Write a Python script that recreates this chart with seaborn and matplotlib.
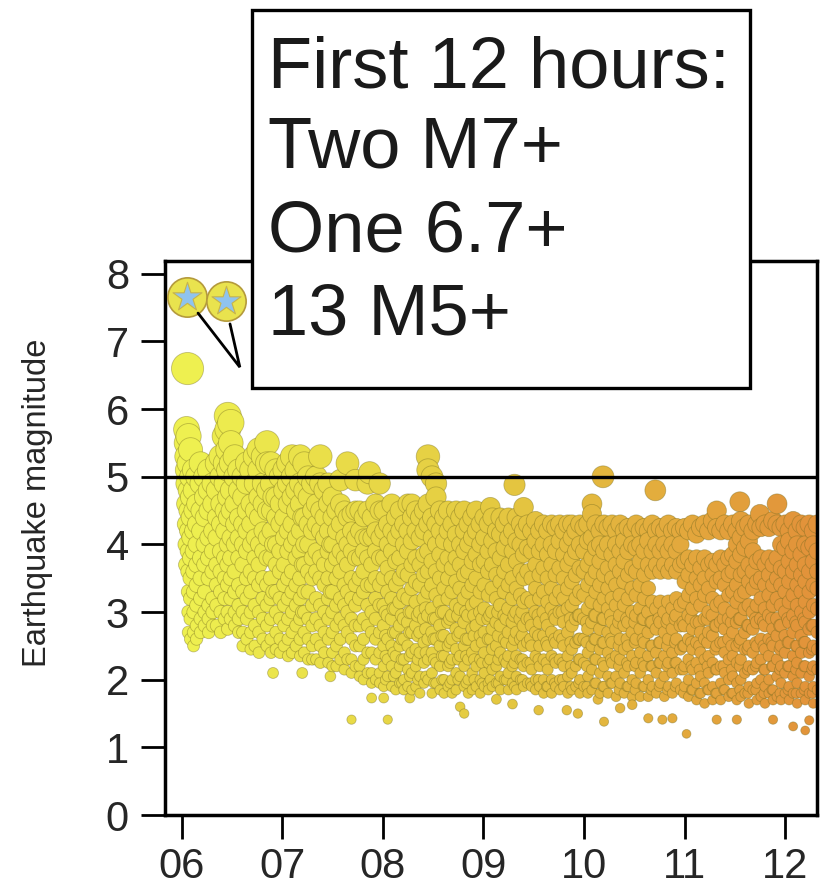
import numpy as np
import pandas as pd
import matplotlib
matplotlib.use("Agg")
import matplotlib.pyplot as plt
from matplotlib.colors import LinearSegmentedColormap
from matplotlib.patches import Rectangle
import seaborn as sns

# day of February (UTC), magnitudes
day06 = [
    (6.05, [5.7, 5.5, 5.3, 5.1, 4.9, 4.6, 4.3, 4.0, 3.7]),
    (6.06, [6.6]),
    (6.07, [5.6, 5.2, 4.8, 4.5, 4.2, 3.9, 3.6, 3.3, 3.0, 2.7]),
    (6.09, [5.4, 5.0, 4.7, 4.4, 4.1, 3.8, 3.5, 3.2, 2.9, 2.6]),
    (6.12, [5.1, 4.8, 4.5, 4.2, 3.9, 3.6, 3.3, 3.0, 2.7, 2.5]),
    (6.15, [5.0, 4.6, 4.3, 4.0, 3.7, 3.4, 3.1, 2.8, 2.6]),
    (6.19, [5.2, 4.9, 4.5, 4.2, 3.8, 3.5, 3.2, 2.9, 2.7]),
    (6.23, [5.0, 4.7, 4.4, 4.0, 3.7, 3.3, 3.0, 2.8]),
    (6.27, [5.1, 4.8, 4.5, 4.1, 3.8, 3.5, 3.1, 2.9, 2.7]),
    (6.31, [4.9, 4.6, 4.2, 3.9, 3.6, 3.2, 3.0, 2.8]),
    (6.35, [5.2, 4.8, 4.4, 4.1, 3.7, 3.4, 3.1, 2.8]),
    (6.39, [5.3, 5.0, 4.6, 4.3, 3.9, 3.6, 3.3, 3.0, 2.7]),
    (6.43, [5.6, 5.2, 4.9, 4.5, 4.2, 3.8, 3.5, 3.2, 2.9]),
    (6.46, [5.9, 5.7, 5.4, 5.1, 4.7, 4.4, 4.0, 3.7, 3.4, 3.0, 2.75]),
    (6.49, [5.8, 5.5, 5.2, 4.8, 4.5, 4.1, 3.8, 3.5, 3.2, 2.9]),
    (6.53, [5.3, 5.0, 4.6, 4.3, 4.0, 3.6, 3.3, 3.0, 2.8]),
    (6.57, [5.1, 4.8, 4.4, 4.1, 3.8, 3.4, 3.1, 2.9, 2.7]),
    (6.61, [5.0, 4.7, 4.3, 4.0, 3.7, 3.3, 3.0, 2.7, 2.5]),
    (6.65, [5.2, 4.9, 4.5, 4.2, 3.9, 3.5, 3.2, 2.9, 2.6]),
    (6.69, [5.1, 4.6, 4.3, 4.0, 3.6, 3.3, 3.0, 2.7, 2.45]),
    (6.73, [5.3, 4.9, 4.5, 4.1, 3.8, 3.5, 3.1, 2.8, 2.5]),
    (6.77, [5.4, 5.1, 4.7, 4.4, 4.0, 3.7, 3.4, 3.0, 2.7, 2.4]),
    (6.81, [5.3, 4.9, 4.6, 4.2, 3.9, 3.5, 3.2, 2.9, 2.6]),
    (6.85, [5.5, 5.2, 4.8, 4.5, 4.1, 3.8, 3.4, 3.1, 2.8, 2.5]),
    (6.89, [5.2, 4.9, 4.5, 4.2, 3.8, 3.5, 3.2, 2.9, 2.6, 2.4]),
    (6.91, [4.7, 4.0, 3.3, 2.1]),
    (6.94, [5.1, 4.7, 4.4, 4.0, 3.7, 3.3, 3.0, 2.7, 2.45]),
    (6.98, [5.0, 4.6, 4.3, 3.9, 3.6, 3.2, 2.9, 2.6, 2.4]),
]

day07 = [
    (7.02, [5.1, 4.8, 4.4, 4.1, 3.7, 3.4, 3.1, 2.8, 2.5]),
    (7.06, [5.2, 4.9, 4.6, 4.2, 3.9, 3.5, 3.2, 2.9, 2.6, 2.35]),
    (7.10, [5.3, 5.0, 4.7, 4.3, 4.0, 3.6, 3.3, 3.0, 2.7, 2.4]),
    (7.14, [5.1, 4.8, 4.5, 4.1, 3.8, 3.4, 3.1, 2.8, 2.5]),
    (7.18, [5.3, 4.9, 4.6, 4.2, 3.9, 3.5, 3.2, 2.9, 2.6, 2.35]),
    (7.20, [4.4, 3.7, 3.0, 2.1]),
    (7.22, [5.2, 4.8, 4.4, 4.0, 3.7, 3.3, 3.0, 2.7, 2.4]),
    (7.26, [5.0, 4.7, 4.3, 4.0, 3.6, 3.3, 2.9, 2.6, 2.3]),
    (7.30, [4.9, 4.5, 4.2, 3.8, 3.5, 3.1, 2.8, 2.5, 2.3]),
    (7.34, [5.0, 4.6, 4.3, 3.9, 3.6, 3.2, 2.9, 2.6, 2.3]),
    (7.38, [5.3, 4.9, 4.5, 4.2, 3.8, 3.5, 3.1, 2.8, 2.5, 2.25]),
    (7.42, [4.8, 4.4, 4.1, 3.7, 3.4, 3.0, 2.7, 2.4]),
    (7.46, [4.9, 4.6, 4.2, 3.9, 3.5, 3.2, 2.9, 2.6, 2.25]),
    (7.48, [4.0, 3.3, 2.05]),
    (7.50, [4.7, 4.4, 4.0, 3.7, 3.3, 3.0, 2.7, 2.4, 2.2]),
    (7.54, [4.5, 4.2, 3.8, 3.5, 3.1, 2.8, 2.5, 2.2]),
    (7.58, [4.95, 4.6, 4.3, 3.9, 3.6, 3.2, 2.9, 2.6, 2.3]),
    (7.62, [4.5, 4.1, 3.8, 3.4, 3.1, 2.8, 2.4, 2.15]),
    (7.65, [5.2, 4.4, 4.0, 3.7, 3.3, 3.0, 2.7, 2.3]),
    (7.69, [4.45, 4.2, 3.9, 3.5, 3.2, 2.9, 2.6, 2.3, 2.1, 1.41]),
    (7.73, [4.95, 4.5, 4.1, 3.8, 3.4, 3.1, 2.8, 2.5, 2.2]),
    (7.77, [4.5, 4.2, 3.8, 3.5, 3.2, 2.8, 2.5, 2.2, 2.05]),
    (7.81, [4.4, 4.1, 3.9, 3.6, 3.3, 2.9, 2.6, 2.3, 2.0]),
    (7.85, [4.9, 4.5, 4.1, 3.8, 3.4, 3.1, 2.8, 2.4, 2.1]),
    (7.87, [5.06]),
    (7.89, [4.4, 4.1, 3.7, 3.4, 3.0, 2.7, 2.4, 2.1, 1.95, 1.73]),
    (7.93, [4.6, 4.2, 3.9, 3.5, 3.2, 2.9, 2.6, 2.3, 2.0]),
    (7.97, [4.9, 4.5, 4.1, 3.8, 3.4, 3.1, 2.7, 2.4, 2.1, 1.95]),
]

day08 = [
    (8.01, [4.5, 4.2, 3.8, 3.5, 3.1, 2.8, 2.5, 2.2, 1.9, 1.73]),
    (8.05, [4.3, 4.0, 3.65, 3.3, 2.95, 2.6, 2.3, 2.05, 1.41]),
    (8.09, [4.6, 4.2, 3.9, 3.5, 3.2, 2.9, 2.5, 2.2, 1.9]),
    (8.13, [4.4, 4.1, 3.75, 3.4, 3.05, 2.7, 2.35, 2.1, 1.85]),
    (8.17, [4.5, 4.2, 3.8, 3.5, 3.15, 2.8, 2.5, 2.2, 1.95]),
    (8.21, [4.3, 4.0, 3.6, 3.25, 2.9, 2.6, 2.3, 2.0, 1.85]),
    (8.25, [4.6, 4.2, 3.9, 3.55, 3.2, 2.85, 2.5, 2.15, 1.9]),
    (8.27, [1.73]),
    (8.29, [4.6, 4.4, 4.05, 3.7, 3.35, 3.0, 2.7, 2.4, 2.1, 1.85]),
    (8.33, [4.5, 4.2, 3.8, 3.45, 3.15, 2.8, 2.45, 2.2, 1.9]),
    (8.37, [4.4, 4.1, 3.7, 3.4, 3.0, 2.7, 2.4, 2.05, 1.8]),
    (8.41, [4.5, 4.2, 3.85, 3.55, 3.2, 2.9, 2.55, 2.25, 1.95]),
    (8.45, [5.3, 5.1, 4.6, 4.3, 3.9, 3.6, 3.3, 2.95, 2.6, 2.3, 2.0]),
    (8.49, [5.0, 4.4, 4.1, 3.75, 3.4, 3.05, 2.7, 2.4, 2.1, 1.8]),
    (8.53, [4.9, 4.7, 4.3, 4.0, 3.6, 3.25, 2.9, 2.6, 2.25, 1.95]),
    (8.57, [4.5, 4.2, 3.85, 3.5, 3.15, 2.8, 2.5, 2.2, 1.85]),
    (8.61, [4.4, 4.05, 3.7, 3.35, 3.0, 2.65, 2.35, 2.0, 1.8]),
    (8.65, [4.5, 4.2, 3.8, 3.5, 3.2, 2.85, 2.5, 2.2, 1.9]),
    (8.69, [4.3, 4.0, 3.65, 3.3, 2.95, 2.6, 2.3, 2.0, 1.8]),
    (8.73, [4.5, 4.15, 3.8, 3.45, 3.1, 2.75, 2.45, 2.1, 1.85]),
    (8.77, [4.4, 4.0, 3.7, 3.35, 3.05, 2.7, 2.35, 2.05, 1.6]),
    (8.81, [4.5, 4.2, 3.9, 3.55, 3.2, 2.85, 2.5, 2.2, 1.9, 1.5]),
    (8.85, [4.3, 4.0, 3.6, 3.3, 2.95, 2.6, 2.3, 2.0, 1.8]),
    (8.89, [4.4, 4.1, 3.75, 3.4, 3.1, 2.75, 2.4, 2.1, 1.85]),
    (8.93, [4.5, 4.2, 3.85, 3.5, 3.15, 2.8, 2.5, 2.2, 1.9]),
    (8.97, [4.3, 4.0, 3.7, 3.3, 3.0, 2.65, 2.3, 2.0, 1.8]),
]

day09 = [
    (9.01, [4.4, 4.1, 3.75, 3.4, 3.05, 2.7, 2.4, 2.1, 1.9]),
    (9.05, [4.3, 3.9, 3.6, 3.25, 2.9, 2.6, 2.25, 1.95, 1.85]),
    (9.07, [4.55]),
    (9.09, [4.4, 4.05, 3.7, 3.35, 3.0, 2.75, 2.45, 2.15, 1.9]),
    (9.13, [4.2, 3.9, 3.55, 3.2, 2.85, 2.5, 2.2, 1.95, 1.71]),
    (9.17, [4.4, 4.15, 3.8, 3.45, 3.1, 2.8, 2.4, 2.05, 1.85]),
    (9.21, [4.3, 3.95, 3.6, 3.3, 2.95, 2.6, 2.3, 2.0]),
    (9.25, [4.4, 4.1, 3.7, 3.4, 3.05, 2.7, 2.35, 2.1, 1.85]),
    (9.29, [4.2, 3.9, 3.5, 3.2, 2.85, 2.5, 2.2, 1.95, 1.64]),
    (9.31, [4.88]),
    (9.33, [4.4, 4.05, 3.75, 3.35, 3.0, 2.7, 2.35, 2.05, 1.85]),
    (9.37, [4.3, 4.0, 3.6, 3.25, 2.9, 2.6, 2.3, 2.0]),
    (9.40, [4.55, 4.2, 3.85, 3.5, 3.15, 2.8, 2.5, 2.2, 1.9]),
    (9.44, [4.3, 3.95, 3.6, 3.2, 2.9, 2.55, 2.25, 1.95]),
    (9.48, [4.2, 3.9, 3.5, 3.15, 2.8, 2.5, 2.15, 1.9]),
    (9.52, [4.35, 4.05, 3.7, 3.35, 3.0, 2.7, 2.35, 2.0, 1.85]),
    (9.55, [1.55]),
    (9.56, [4.2, 3.9, 3.55, 3.2, 2.85, 2.5, 2.2, 1.9]),
    (9.60, [4.3, 4.0, 3.65, 3.3, 3.0, 2.65, 2.3, 2.0, 1.8]),
    (9.64, [4.2, 3.85, 3.5, 3.15, 2.8, 2.5, 2.15, 1.9]),
    (9.68, [4.3, 4.0, 3.7, 3.35, 3.05, 2.7, 2.35, 2.0, 1.8]),
    (9.72, [4.25, 3.9, 3.55, 3.2, 2.9, 2.55, 2.25, 1.9]),
    (9.76, [4.3, 4.05, 3.65, 3.3, 3.0, 2.65, 2.3, 2.0, 1.85]),
    (9.80, [4.2, 3.85, 3.5, 3.2, 2.85, 2.5, 2.2, 1.9]),
    (9.83, [1.55]),
    (9.84, [4.3, 4.0, 3.7, 3.35, 3.05, 2.7, 2.35, 2.05, 1.8]),
    (9.88, [4.3, 4.1, 3.8, 3.45, 3.1, 2.8, 2.45, 2.1, 1.85]),
    (9.92, [4.2, 3.9, 3.55, 3.2, 2.9, 2.55, 2.2, 1.9]),
    (9.94, [1.5]),
    (9.96, [4.3, 4.0, 3.65, 3.3, 2.95, 2.6, 2.3, 2.0, 1.8]),
]

day10 = [
    (10.00, [4.25, 3.9, 3.6, 3.25, 2.9, 2.6, 2.25, 1.9]),
    (10.04, [4.3, 4.05, 3.7, 3.4, 3.05, 2.75, 2.4, 2.05, 1.8]),
    (10.08, [4.6, 4.45, 4.1, 3.8, 3.5, 3.15, 2.85, 2.5, 2.15, 1.85]),
    (10.12, [4.3, 3.95, 3.6, 3.3, 2.95, 2.6, 2.3, 1.95]),
    (10.14, [1.71]),
    (10.16, [4.2, 4.0, 3.75, 3.4, 3.1, 2.75, 2.45, 2.1, 1.8]),
    (10.19, [5.0]),
    (10.20, [4.3, 3.9, 3.55, 3.2, 2.9, 2.55, 2.2, 1.9, 1.38]),
    (10.24, [4.25, 4.0, 3.65, 3.35, 3.05, 2.7, 2.4, 2.05, 1.8]),
    (10.28, [4.3, 3.85, 3.5, 3.2, 2.85, 2.55, 2.25, 1.95]),
    (10.32, [4.2, 4.0, 3.7, 3.4, 3.1, 2.75, 2.35, 2.05, 1.75]),
    (10.36, [4.3, 3.9, 3.6, 3.25, 2.95, 2.6, 2.3, 1.95, 1.58]),
    (10.40, [4.2, 4.05, 3.75, 3.45, 3.1, 2.8, 2.45, 2.1, 1.8]),
    (10.44, [4.25, 3.9, 3.55, 3.2, 2.85, 2.5, 2.2, 1.9]),
    (10.48, [4.2, 4.0, 3.65, 3.35, 3.0, 2.7, 2.35, 2.0, 1.75, 1.63]),
    (10.52, [4.3, 3.95, 3.6, 3.25, 2.95, 2.6, 2.25, 1.95]),
    (10.56, [4.2, 4.0, 3.75, 3.4, 3.05, 2.75, 2.4, 2.1, 1.75]),
    (10.60, [4.25, 3.9, 3.55, 3.2, 2.9, 2.55, 2.2, 1.9]),
    (10.64, [4.2, 4.05, 3.7, 3.35, 3.0, 2.7, 2.35, 2.0, 1.75, 1.43]),
    (10.68, [4.3, 3.9, 3.6, 3.15, 2.85, 2.5, 2.2, 1.9]),
    (10.71, [4.8]),
    (10.72, [4.2, 4.0, 3.7, 3.05, 2.75, 2.4, 2.1, 1.8]),
    (10.76, [4.25, 3.9, 3.6, 3.15, 2.85, 2.55, 2.25, 1.95]),
    (10.78, [1.41]),
    (10.80, [4.2, 4.0, 3.7, 3.0, 2.7, 2.35, 2.05, 1.75]),
    (10.84, [4.3, 3.9, 3.6, 3.15, 2.9, 2.6, 2.25, 1.9]),
    (10.88, [4.2, 4.0, 3.7, 3.05, 2.75, 2.4, 2.1, 1.8, 1.43]),
    (10.92, [4.25, 3.9, 3.6, 3.2, 2.95, 2.6, 2.25, 1.95]),
    (10.96, [4.2, 4.0, 3.7, 3.1, 2.8, 2.45, 2.15, 1.85]),
]

day11 = [
    (11.00, [4.25, 3.75, 3.45, 3.15, 2.8, 2.5, 2.2, 1.9]),
    (11.02, [1.2]),
    (11.04, [4.2, 3.8, 3.55, 3.25, 2.95, 2.6, 2.3, 2.0, 1.75]),
    (11.08, [4.3, 3.7, 3.35, 3.05, 2.75, 2.45, 2.15, 1.85]),
    (11.12, [4.15, 3.8, 3.5, 3.2, 2.85, 2.55, 2.25, 1.95, 1.7]),
    (11.16, [4.25, 3.65, 3.4, 3.1, 2.7, 2.4, 2.05, 1.8]),
    (11.20, [4.3, 3.8, 3.5, 3.25, 2.9, 2.6, 2.3, 1.95, 1.65]),
    (11.24, [4.2, 3.7, 3.35, 3.0, 2.7, 2.35, 2.1, 1.85]),
    (11.28, [4.35, 3.75, 3.55, 3.2, 2.95, 2.65, 2.25, 1.9, 1.7]),
    (11.32, [4.5, 4.25, 3.7, 3.45, 3.1, 2.8, 2.5, 2.15, 1.8, 1.41]),
    (11.36, [4.2, 3.8, 3.5, 3.15, 2.85, 2.55, 2.2, 1.95, 1.7]),
    (11.40, [4.3, 3.7, 3.4, 3.05, 2.75, 2.4, 2.1, 1.85]),
    (11.44, [4.2, 3.8, 3.55, 3.25, 2.9, 2.6, 2.3, 2.0, 1.75]),
    (11.48, [4.3, 3.85, 3.6, 3.3, 3.0, 2.7, 2.35, 2.05, 1.8]),
    (11.52, [4.2, 4.0, 3.75, 3.4, 3.15, 2.85, 2.5, 2.25, 1.95, 1.7, 1.41]),
    (11.55, [4.63]),
    (11.56, [4.35, 4.1, 3.85, 3.55, 3.25, 2.9, 2.6, 2.3, 2.0, 1.75]),
    (11.60, [4.25, 3.95, 3.6, 3.3, 3.05, 2.7, 2.45, 2.1, 1.8]),
    (11.64, [4.3, 4.05, 3.7, 3.45, 3.1, 2.8, 2.5, 2.2, 1.9, 1.65]),
    (11.68, [4.2, 3.9, 3.6, 3.35, 3.0, 2.75, 2.4, 2.15, 1.85]),
    (11.72, [4.3, 3.75, 3.45, 3.1, 2.85, 2.5, 2.25, 1.95, 1.7]),
    (11.75, [4.45]),
    (11.76, [4.25, 3.8, 3.5, 3.2, 2.9, 2.6, 2.3, 2.0, 1.75]),
    (11.80, [4.3, 3.7, 3.4, 3.05, 2.8, 2.45, 2.15, 1.9, 1.65]),
    (11.84, [4.25, 3.8, 3.55, 3.25, 2.95, 2.6, 2.35, 2.0, 1.8]),
    (11.88, [4.35, 3.7, 3.4, 3.1, 2.75, 2.5, 2.2, 1.85, 1.7, 1.41]),
    (11.92, [4.6, 4.3, 3.8, 3.5, 3.2, 2.9, 2.65, 2.3, 2.05, 1.75]),
    (11.96, [4.25, 4.0, 3.65, 3.4, 3.1, 2.8, 2.5, 2.2, 1.95, 1.7]),
]

day12 = [
    (12.00, [4.3, 3.95, 3.6, 3.3, 3.0, 2.65, 2.4, 2.1, 1.8]),
    (12.04, [4.2, 4.05, 3.75, 3.45, 3.15, 2.85, 2.55, 2.2, 1.9, 1.7]),
    (12.08, [4.35, 3.9, 3.6, 3.25, 2.95, 2.7, 2.35, 2.05, 1.8, 1.31]),
    (12.12, [4.2, 4.0, 3.7, 3.4, 3.1, 2.8, 2.5, 2.25, 1.95, 1.65]),
    (12.16, [4.3, 3.85, 3.55, 3.3, 3.0, 2.65, 2.4, 2.1, 1.8]),
    (12.20, [4.25, 4.0, 3.7, 3.45, 3.15, 2.85, 2.55, 2.2, 1.9, 1.7, 1.25]),
    (12.24, [4.3, 3.95, 3.6, 3.3, 3.0, 2.75, 2.4, 2.05, 1.8, 1.4]),
    (12.28, [4.2, 4.0, 3.75, 3.4, 3.1, 2.8, 2.5, 2.2, 1.9, 1.65]),
    (12.32, [4.3, 3.9, 3.6, 3.35, 3.05, 2.7, 2.45, 2.15, 1.85]),
]

# the many small events packed into the lower part of the cloud (days 8-12)
small_events = [
    (8.03, [2.0, 2.35, 2.65, 3.0]), (8.11, [2.05, 2.4, 2.7, 3.05]),
    (8.19, [1.95, 2.3, 2.6, 2.95]), (8.27, [2.05, 2.35, 2.7, 3.0]),
    (8.35, [2.0, 2.3, 2.65, 2.95]), (8.43, [2.05, 2.4, 2.75, 3.05]),
    (8.51, [1.95, 2.3, 2.6, 2.9]), (8.59, [2.0, 2.35, 2.65, 3.0]),
    (8.67, [1.95, 2.25, 2.55, 2.9]), (8.75, [2.0, 2.3, 2.65, 2.95]),
    (8.83, [1.95, 2.35, 2.6, 3.0]), (8.91, [2.0, 2.3, 2.65, 2.95]),
    (8.99, [1.95, 2.25, 2.55, 2.9]), (9.07, [2.0, 2.3, 2.6, 2.95]),
    (9.15, [1.95, 2.3, 2.65, 3.0]), (9.23, [2.0, 2.25, 2.55, 2.9]),
    (9.31, [1.9, 2.25, 2.6, 2.95]), (9.39, [2.0, 2.3, 2.65, 3.0]),
    (9.47, [1.95, 2.25, 2.6, 2.9]), (9.55, [2.0, 2.3, 2.65, 2.95]),
    (9.63, [1.9, 2.25, 2.55, 2.9]), (9.71, [1.95, 2.3, 2.6, 2.95]),
    (9.79, [2.0, 2.25, 2.6, 3.0]), (9.87, [1.9, 2.2, 2.55, 2.9]),
    (9.95, [1.95, 2.3, 2.6, 2.95]), (10.03, [1.9, 2.2, 2.55, 2.85]),
    (10.11, [1.95, 2.3, 2.6, 2.95]), (10.19, [1.9, 2.25, 2.55, 2.9]),
    (10.27, [1.95, 2.3, 2.6, 2.95]), (10.35, [1.85, 2.2, 2.5, 2.85]),
    (10.43, [1.9, 2.25, 2.6, 2.9]), (10.51, [1.85, 2.2, 2.55, 2.85]),
    (10.59, [1.9, 2.25, 2.6, 2.9]), (10.67, [1.85, 2.2, 2.5, 2.85]),
    (10.75, [1.9, 2.25, 2.55, 2.9]), (10.83, [1.85, 2.2, 2.5, 2.85]),
    (10.91, [1.9, 2.25, 2.55, 2.9]), (10.99, [1.8, 2.15, 2.5, 2.85]),
    (11.07, [1.85, 2.2, 2.55, 2.9]), (11.15, [1.8, 2.15, 2.5, 2.85]),
    (11.23, [1.85, 2.2, 2.55, 2.9]), (11.31, [1.8, 2.15, 2.45, 2.8]),
    (11.39, [1.85, 2.2, 2.55, 2.9]), (11.47, [1.8, 2.15, 2.5, 2.85]),
    (11.55, [1.85, 2.2, 2.55, 2.9]), (11.63, [1.8, 2.15, 2.45, 2.8]),
    (11.71, [1.85, 2.2, 2.55, 2.9]), (11.79, [1.8, 2.15, 2.5, 2.85]),
    (11.87, [1.85, 2.2, 2.55, 2.9]), (11.95, [1.8, 2.15, 2.45, 2.8]),
    (12.03, [1.85, 2.2, 2.55, 2.9]), (12.11, [1.8, 2.15, 2.5, 2.85]),
    (12.19, [1.85, 2.2, 2.55, 2.9]), (12.27, [1.8, 2.15, 2.45, 2.8]),
]

# the two M7+ mainshocks, drawn as stars
mainshock_time = [6.05, 6.44]
mainshock_mag = [7.66, 7.60]

day_ticks = [6, 7, 8, 9, 10, 11, 12]
day_labels = ["06", "07", "08", "09", "10", "11", "12"]
mag_ticks = [0, 1, 2, 3, 4, 5, 6, 7, 8]
box_lines = ["First 12 hours:", "Two M7+", "One 6.7+", "13 M5+"]

rows = []
for day in [day06, day07, day08, day09, day10, day11, day12, small_events]:
    for t, mags in day:
        for m in mags:
            rows.append((t, m))
df = pd.DataFrame(rows, columns=["time", "mag"]).sort_values("time", kind="stable")
# marker area (pt^2) grows with magnitude
df["area"] = (0.72 * 6.6 * np.exp(0.24 * df["mag"])) ** 2

sns.set_style("ticks")
plt.rcParams["font.family"] = ["Liberation Sans", "DejaVu Sans"]

fig = plt.figure(figsize=(8.23, 8.92), dpi=100)
ax = fig.add_axes([0.2005, 0.0863, 0.7922, 0.6211])

cmap = LinearSegmentedColormap.from_list("quake", ["#eef150", "#e4c840", "#e2923a"])
amin, amax = df["area"].min(), df["area"].max()
sns.scatterplot(data=df, x="time", y="mag", hue="time", palette=cmap,
                hue_norm=(6.0, 12.3), size="area", sizes=(amin, amax),
                size_norm=(amin, amax), edgecolor=(0.45, 0.42, 0.12, 0.42),
                linewidth=0.6, legend=False, ax=ax, zorder=2)

main = pd.DataFrame({"time": mainshock_time, "mag": mainshock_mag})
sns.scatterplot(data=main, x="time", y="mag", color="#e9e34e", s=800,
                edgecolor="#b49a3c", linewidth=1.2, legend=False, ax=ax, zorder=4)
sns.scatterplot(data=main, x="time", y="mag", color="#8fc3ee", marker="*", s=480,
                edgecolor="#c8b44a", linewidth=0.8, legend=False, ax=ax, zorder=5)

# pointers from the mainshocks to the text box
ax.plot([6.164, 6.58, 6.482], [7.42, 6.62, 7.26], color="black", lw=2.0,
        solid_joinstyle="miter", zorder=6, clip_on=False)

ax.axhline(5, color="black", lw=2.4, zorder=6)

ax.set_xlim(5.836, 12.317)
ax.set_ylim(0, 8.19)
ax.set_xticks(day_ticks)
ax.set_xticklabels(day_labels)
ax.set_yticks(mag_ticks)
ax.tick_params(axis="both", labelsize=30, length=17, width=2.0, color="black")
ax.tick_params(axis="x", pad=6)
ax.tick_params(axis="y", pad=9)
ax.set_xlabel("")
ax.set_ylabel("Earthquake magnitude", fontsize=23.5)
ax.yaxis.set_label_coords(-0.172, 0.564)
for sp in ax.spines.values():
    sp.set_linewidth(2.5)
    sp.set_color("black")

# annotation box overlapping the top of the axes
box = Rectangle((0.306, 0.565), 0.605, 0.424, transform=fig.transFigure,
                facecolor="white", edgecolor="black", linewidth=2.4, zorder=10)
fig.add_artist(box)
for line, base_px in zip(box_lines, [87, 168, 252, 335]):
    fig.text(0.326, 1 - base_px / 892, line, fontsize=52, va="baseline",
             ha="left", color="#1a1a1a", zorder=11)

fig.savefig("out.png", dpi=100)
